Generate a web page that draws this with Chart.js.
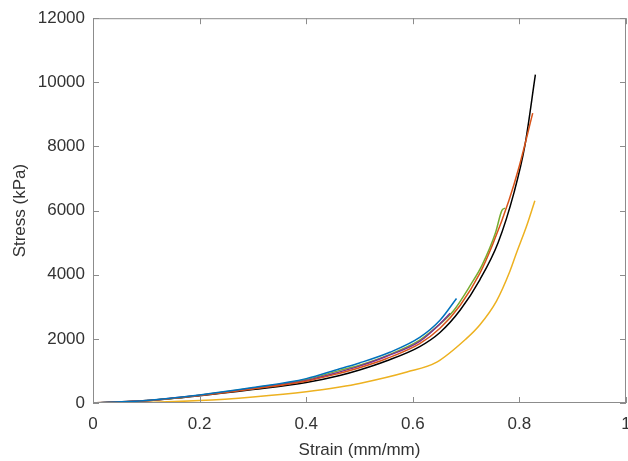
<!DOCTYPE html>
<html>
<head>
<meta charset="utf-8">
<script src="https://cdn.jsdelivr.net/npm/chart.js@4.4.0/dist/chart.umd.min.js"></script>
<style>
  html, body { margin: 0; padding: 0; background: #fff; }
  #wrap { width: 628px; height: 461px; }
</style>
</head>
<body>
<div id="wrap"><canvas id="stressChart"></canvas></div>
<script>
// strain (mm/mm) / stress (kPa), one pair of arrays per sample
var blueStrain   = [0, 0.1, 0.2, 0.3, 0.4, 0.463, 0.5, 0.557, 0.613, 0.651, 0.682];
var blueStress   = [0, 80, 250, 480, 760, 1070, 1250, 1583, 2046, 2580, 3260];

var redStrain    = [0, 0.1, 0.2, 0.3, 0.4, 0.463, 0.5, 0.55, 0.613, 0.651, 0.689, 0.726, 0.75, 0.78, 0.8, 0.825];
var redStress    = [0, 70, 235, 440, 680, 930, 1100, 1380, 1850, 2330, 3050, 4050, 4950, 6300, 7400, 9040];

var yellowStrain = [0, 0.1, 0.2, 0.3, 0.4, 0.463, 0.5, 0.589, 0.645, 0.7, 0.726, 0.757, 0.782, 0.795, 0.814, 0.829];
var yellowStress = [0, 15, 75, 190, 350, 500, 610, 966, 1275, 2000, 2440, 3177, 4100, 4700, 5543, 6310];

var purpleStrain = [0, 0.1, 0.2, 0.3, 0.4, 0.463, 0.5, 0.55, 0.613, 0.65, 0.67];
var purpleStress = [0, 75, 240, 450, 700, 970, 1150, 1450, 1922, 2450, 2797];

var greenStrain  = [0, 0.1, 0.2, 0.3, 0.4, 0.463, 0.5, 0.55, 0.613, 0.65, 0.676, 0.709, 0.73, 0.755, 0.767, 0.773];
var greenStress  = [0, 75, 245, 465, 730, 1018, 1180, 1470, 1960, 2450, 2870, 3700, 4300, 5300, 6000, 6077];

var blackStrain  = [0, 0.1, 0.2, 0.3, 0.4, 0.463, 0.5, 0.55, 0.613, 0.651, 0.689, 0.726, 0.76, 0.79, 0.81, 0.83];
var blackStress  = [0, 70, 225, 420, 640, 860, 1030, 1310, 1760, 2200, 2900, 3850, 5000, 6570, 8000, 10240];

var xTicks = [0, 0.2, 0.4, 0.6, 0.8, 1];
var yTicks = [0, 2000, 4000, 6000, 8000, 10000, 12000];

function pts(xs, ys) {
    return xs.map(function (x, i) { return {x: x, y: ys[i]}; });
}

function line(xs, ys, color) {
    return {
        data: pts(xs, ys),
        borderColor: color,
        borderWidth: 1.5,
        pointRadius: 0,
        fill: false,
        cubicInterpolationMode: "monotone"
    };
}

// MATLAB style box with inward ticks on all four sides
var boxPlugin = {
    id: "box",
    afterDraw: function (chart) {
        var c = chart.ctx, a = chart.chartArea;
        var sx = chart.scales.x, sy = chart.scales.y;
        c.save();
        c.strokeStyle = "#8c8c8c";
        c.lineWidth = 1;
        c.strokeRect(a.left + 0.5, a.top + 0.5, a.right - a.left - 1, a.bottom - a.top - 1);
        c.beginPath();
        xTicks.forEach(function (t) {
            var px = Math.round(sx.getPixelForValue(t)) + 0.5;
            c.moveTo(px, a.bottom); c.lineTo(px, a.bottom - 6);
            c.moveTo(px, a.top); c.lineTo(px, a.top + 6);
        });
        yTicks.forEach(function (t) {
            var py = Math.round(sy.getPixelForValue(t)) + 0.5;
            c.moveTo(a.left, py); c.lineTo(a.left + 6, py);
            c.moveTo(a.right, py); c.lineTo(a.right - 6, py);
        });
        c.stroke();
        c.restore();
    }
};

var font = "'Liberation Sans', Arial, Helvetica, sans-serif";

new Chart(document.getElementById("stressChart"), {
    type: "line",
    data: {
        datasets: [
            line(blueStrain, blueStress, "#0072BD"),
            line(redStrain, redStress, "#D95319"),
            line(yellowStrain, yellowStress, "#EDB120"),
            line(purpleStrain, purpleStress, "#7E2F8E"),
            line(greenStrain, greenStress, "#77AC30"),
            line(blackStrain, blackStress, "#000000")
        ]
    },
    options: {
        responsive: true,
        maintainAspectRatio: false,
        animation: false,
        layout: { padding: { top: 14, right: 2, left: 0, bottom: 0 } },
        plugins: { legend: { display: false }, tooltip: { enabled: false } },
        scales: {
            x: {
                type: "linear",
                min: 0, max: 1,
                afterBuildTicks: function (s) { s.ticks = xTicks.map(function (v) { return {value: v}; }); },
                afterFit: function (s) { s.height = 58; s.paddingRight = 0; s.paddingLeft = 0; },
                grid: { display: false, drawTicks: false },
                border: { display: false },
                ticks: { color: "#333", padding: 11, font: { family: font, size: 17 },
                         callback: function (v) { return String(v); } },
                title: { display: true, text: "Strain (mm/mm)", color: "#333",
                         font: { family: font, size: 17 }, padding: { top: 4, bottom: 0 } }
            },
            y: {
                type: "linear",
                min: 0, max: 12000,
                afterBuildTicks: function (s) { s.ticks = yTicks.map(function (v) { return {value: v}; }); },
                afterFit: function (s) { s.width = 93; },
                grid: { display: false, drawTicks: false },
                border: { display: false },
                ticks: { color: "#333", padding: 8, font: { family: font, size: 17 },
                         callback: function (v) { return String(v); } },
                title: { display: true, text: "Stress (kPa)", color: "#333",
                         font: { family: font, size: 17 }, padding: { top: 10, bottom: 4 } }
            }
        }
    },
    plugins: [boxPlugin]
});
</script>
</body>
</html>
